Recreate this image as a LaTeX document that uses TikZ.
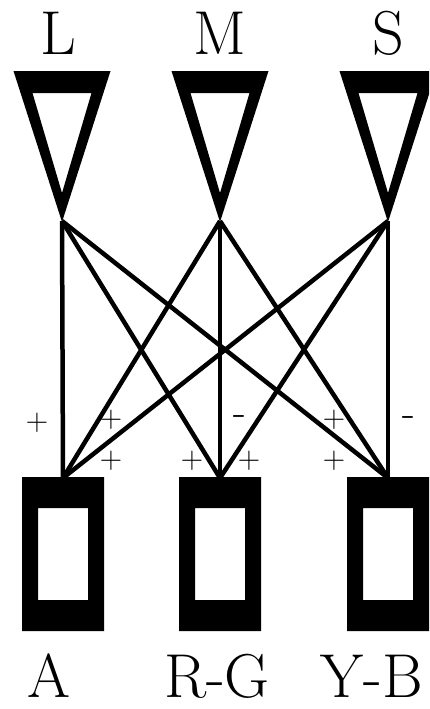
\documentclass[tikz,border=0pt]{standalone}
\usepackage{fontspec}
\begin{document}
\begin{tikzpicture}[x=1pt,y=-1pt,
  conn/.style={line width=4.5pt},
  lbl/.style={font=\fontsize{62}{62}\selectfont, anchor=base, inner sep=0pt},
  sgn/.style={font=\fontsize{31}{31}\selectfont, inner sep=0pt},
  msg/.style={font=\fontsize{42}{42}\selectfont, inner sep=0pt}]
\useasboundingbox (0,0) rectangle (429,709);
\clip (0,0) rectangle (429,709);
% cone triangles
\foreach \n/\c in {L/62,M/220,S/388} {
  \fill[even odd rule] (\c-48.5,71) -- (\c+48.5,71) -- (\c,222) -- cycle
                       (\c-29.5,93) -- (\c+29.5,93) -- (\c,193) -- cycle;
  \coordinate (c\n) at (\c,221);
}
% channel boxes
\foreach \n/\c in {A/63,RG/220,YB/388} {
  \fill[even odd rule] (\c-41,477) rectangle (\c+41,631)
                       (\c-25,508) rectangle (\c+25,600);
  \coordinate (b\n) at (\c,478);
}
% connections
\foreach \s in {L,M,S} {
  \foreach \t in {A,RG,YB} {
    \draw[conn] (c\s) -- (b\t);
  }
}
% labels
\node[lbl] (tL) at (58,55) {L};
\node[lbl] (tM) at (220,55) {M};
\node[lbl] (tS) at (388,55) {S};
\node[lbl] (tA) at (49,697) {A};
\node[lbl] (tRG) at (217,697) {R-G};
\node[lbl] (tYB) at (372,697) {Y-B};
% signs
\node[sgn] (s1) at (37,423) {+};
\node[sgn] (s2) at (111,420) {+};
\node[sgn] (s3) at (111,461) {+};
\node[msg] (s4) at (240,421) {-};
\node[sgn] (s5) at (192,461) {+};
\node[sgn] (s6) at (249,461) {+};
\node[sgn] (s7) at (334,420) {+};
\node[sgn] (s8) at (334,461) {+};
\node[msg] (s9) at (409,422) {-};
\end{tikzpicture}
\end{document}
